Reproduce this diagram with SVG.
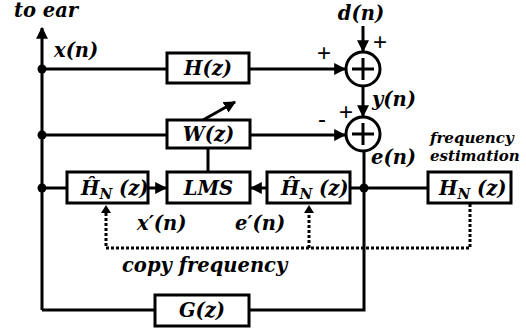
<svg xmlns="http://www.w3.org/2000/svg" width="526" height="329" viewBox="0 0 526 329">
<style>
.ln{stroke:#000;stroke-width:3;fill:none}
.box{stroke:#000;stroke-width:3;fill:#fff}
.dot{stroke:#000;stroke-width:3;fill:none;stroke-dasharray:3 2}
.t{font-family:"DejaVu Serif","Liberation Serif",serif;font-style:italic;font-weight:bold;font-size:19.5px;fill:#000}
.bt{text-anchor:middle}
.sg{font-family:"Liberation Sans",Arial,sans-serif;font-size:24px;fill:#000}
.fe{font-family:"DejaVu Serif","Liberation Serif",serif;font-style:italic;font-weight:bold;font-size:15px;fill:#000}
.sub{font-size:14px}
</style>
<defs>
<marker id="ah" viewBox="0 0 10 10" refX="9" refY="5" markerWidth="4" markerHeight="4" orient="auto" markerUnits="strokeWidth">
<path d="M0,0 L10,5 L0,10 z" fill="#000"/>
</marker>
</defs>

<g id="connectors">
<path class="ln" d="M42,310 L42,28" marker-end="url(#ah)"/>
<path class="ln" d="M42,69 L167,69"/>
<path class="ln" d="M249,69 L345,69" marker-end="url(#ah)"/>
<path class="ln" d="M363,26 L363,51" marker-end="url(#ah)"/>
<path class="ln" d="M363,87 L363,116" marker-end="url(#ah)"/>
<path class="ln" d="M42,135 L167,135"/>
<path class="ln" d="M250,135 L345,135" marker-end="url(#ah)"/>
<path class="ln" d="M203,120 L235,102" marker-end="url(#ah)"/>
<path class="ln" d="M208,148 L208,172"/>
<path class="ln" d="M42,188 L67,188"/>
<path class="ln" d="M148,188 L166,188" marker-end="url(#ah)"/>
<path class="ln" d="M267,188 L251,188" marker-end="url(#ah)"/>
<path class="ln" d="M350,188 L428,188"/>
<path class="ln" d="M364,152 L364,310 L249,310"/>
<path class="ln" d="M42,310 L155,310"/>
<path class="dot" d="M470,204 L470,248 L106,248 L106,210"/>
<path class="dot" d="M309,248 L309,210"/>
<path d="M101,213 L106,205 L111,213 z" fill="#000"/>
<path d="M304,213 L309,205 L314,213 z" fill="#000"/>
<circle cx="42" cy="69" r="4.5" fill="#000"/>
<circle cx="42" cy="135" r="4.5" fill="#000"/>
<circle cx="42" cy="188" r="4.5" fill="#000"/>
<circle cx="364" cy="188" r="4.5" fill="#000"/>
</g>

<g id="H">
<rect class="box" x="167" y="53" width="82" height="30"/>
<text class="t bt" x="208" y="75">H(z)</text>
</g>
<g id="W">
<rect class="box" x="167" y="120" width="83" height="28"/>
<text class="t bt" x="208.5" y="141">W(z)</text>
</g>
<g id="sum1">
<circle class="ln" cx="363" cy="69" r="17" fill="#fff"/>
<path class="ln" d="M352,69 L374,69 M363,58 L363,80" stroke-width="3.5"/>
</g>
<g id="sum2">
<circle class="ln" cx="363" cy="134" r="17" fill="#fff"/>
<path class="ln" d="M352,134 L374,134 M363,123 L363,145" stroke-width="3.5"/>
</g>
<g id="Hhat1">
<rect class="box" x="67" y="172" width="81" height="31"/>
<text class="t" x="81" y="195">Ĥ<tspan class="sub" dy="4">N</tspan><tspan dy="-4"> (z)</tspan></text>
</g>
<g id="LMS">
<rect class="box" x="167" y="172" width="83" height="31"/>
<text class="t bt" x="208.5" y="195">LMS</text>
</g>
<g id="Hhat2">
<rect class="box" x="267" y="172" width="83" height="31"/>
<text class="t" x="281" y="195">Ĥ<tspan class="sub" dy="4">N</tspan><tspan dy="-4"> (z)</tspan></text>
</g>
<g id="HN">
<rect class="box" x="428" y="172" width="83" height="31"/>
<text class="t" x="439" y="195">H<tspan class="sub" dy="4">N</tspan><tspan dy="-4"> (z)</tspan></text>
</g>
<g id="G">
<rect class="box" x="155" y="295" width="94" height="31"/>
<text class="t bt" x="202" y="317">G(z)</text>
</g>

<g id="labels">
<text class="t" x="14" y="17">to ear</text>
<text class="t" x="54" y="57">x(n)</text>
<text class="t bt" x="361" y="20">d(n)</text>
<text class="t" x="372" y="106">y(n)</text>
<text class="t" x="371" y="164">e(n)</text>
<text class="t" x="137" y="230">x′(n)</text>
<text class="t" x="235" y="230">e′(n)</text>
<text class="t" x="122" y="272">copy frequency</text>
<text class="fe" x="430" y="143">frequency</text>
<text class="fe" x="430" y="161">estimation</text>
<text class="sg" x="317" y="61">+</text>
<text class="sg" x="373" y="50">+</text>
<text class="sg" x="339" y="120">+</text>
<text class="sg" x="318" y="127">-</text>
</g>
</svg>
